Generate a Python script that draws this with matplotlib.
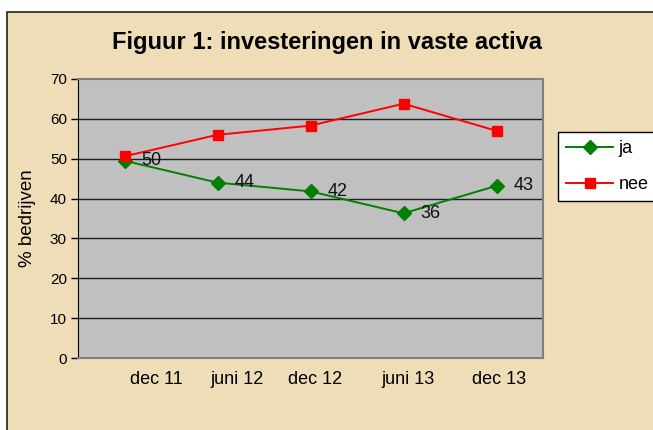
import matplotlib.pyplot as plt
import matplotlib.transforms as mtransforms
from matplotlib.patches import Rectangle

periods = ['dec 11', 'juni 12', 'dec 12', 'juni 13', 'dec 13']
ja = [49.5, 44.0, 41.8, 36.3, 43.2]
ja_labels = ['50', '44', '42', '36', '43']
nee = [50.6, 56.0, 58.3, 63.8, 57.0]
yticks = [0, 10, 20, 30, 40, 50, 60, 70]

plt.rcParams['font.family'] = ['Liberation Sans', 'DejaVu Sans']

fig = plt.figure(figsize=(6.53, 4.30), dpi=100)
fig.patch.set_facecolor('white')

# parchment frame, runs off the right and bottom edge
fig.patches.append(Rectangle((7/653, -0.1), 1.2, 1 - 12/430 + 0.1, transform=fig.transFigure,
                             facecolor='#EEDDB6', edgecolor='#202020', linewidth=1.2, zorder=-5))

ax = fig.add_axes([78/653, 72/430, 465/653, 279/430])
ax.set_facecolor('#C0C0C0')
x = list(range(len(periods)))

for v in yticks[1:-1]:
    ax.axhline(v, color='#202020', linewidth=1.0, zorder=1)

ax.plot(x, ja, color='#008000', marker='D', markersize=7, linewidth=1.4, zorder=3, label='ja')
ax.plot(x, nee, color='#FF0000', marker='s', markersize=7.5, linewidth=1.4, zorder=3, label='nee')

for xi, yi, lab in zip(x, ja, ja_labels):
    ax.annotate(lab, (xi, yi), xytext=(12, 0), textcoords='offset points',
                ha='left', va='center', fontsize=13, color='#111111', zorder=4)

ax.set_xlim(-0.5, len(periods) - 0.5)
ax.set_ylim(0, 70)
ax.set_yticks(yticks)
ax.set_xticks(x)
ax.set_xticklabels(periods, fontsize=13)
ax.tick_params(axis='x', length=0, pad=9)
ax.tick_params(axis='y', length=5, width=1, pad=3, labelsize=11, direction='out')
# the category labels sit a bit right of their points in the original
shifts = [23, 14, 3, 3, 2]
for lab, dx in zip(ax.get_xticklabels(), shifts):
    lab.set_transform(lab.get_transform() + mtransforms.ScaledTranslation(dx / 72, 0, fig.dpi_scale_trans))
ax.spines['left'].set_color('black')
for s in ['top', 'right', 'bottom']:
    ax.spines[s].set_color('#808080')
    ax.spines[s].set_linewidth(1.5)
ax.set_ylabel('% bedrijven', fontsize=13.5, labelpad=10)

fig.text(327/653, 1 - 42/430, 'Figuur 1: investeringen in vaste activa', ha='center', va='center',
         fontsize=17, fontweight='bold')

leg = fig.legend(loc='upper left', bbox_to_anchor=(558/653, 1 - 132/430), fontsize=13,
                 frameon=True, fancybox=False, edgecolor='black', framealpha=1,
                 handlelength=2.6, handletextpad=0.3, borderpad=0.45, borderaxespad=0,
                 labelspacing=1.05)
leg.get_frame().set_linewidth(1.0)

fig.savefig('out.png', dpi=100)
